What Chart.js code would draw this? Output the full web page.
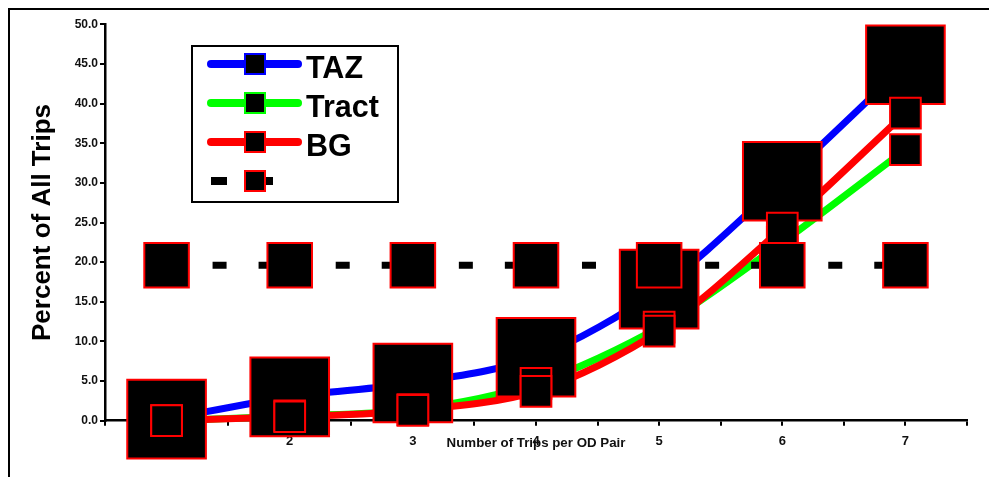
<!DOCTYPE html>
<html>
<head>
<meta charset="utf-8">
<script src="https://cdn.jsdelivr.net/npm/chart.js@4.4.0/dist/chart.umd.min.js"></script>
<style>
  html, body { margin: 0; padding: 0; background: #fff; }
  #wrap { position: relative; width: 989px; height: 477px; }
</style>
</head>
<body>
<div id="wrap"><canvas id="tripChart"></canvas></div>
<script>
// data
const categories  = [1, 2, 3, 4, 5, 6, 7];
const tazValues   = [0.2, 3.0, 4.75, 8.0, 16.6, 30.2, 44.9];
const tractValues = [0.0, 0.6, 1.4, 4.7, 11.8, 22.5, 34.2];
const bgValues    = [0.0, 0.5, 1.3, 3.7, 11.3, 24.3, 38.8];
const refValues   = [19.6, 19.6, 19.6, 19.6, 19.6, 19.6, 19.6];
const yTickValues = [0, 5, 10, 15, 20, 25, 30, 35, 40, 45, 50];
const seriesNames = ['TAZ', 'Tract', 'BG', ''];
const seriesColors = ['#0000ff', '#00ff00', '#ff0000', '#000000'];

const FONT = '"Liberation Sans", Arial, sans-serif';

function toPoints(vals) {
    return categories.map((c, i) => ({ x: c, y: vals[i] }));
}

// x ticks at every category and half way between them
function xTickList() {
    const list = [];
    categories.forEach(c => { list.push(c - 0.5); list.push(c); });
    list.push(categories[categories.length - 1] + 0.5);
    return list;
}

function lineSet(vals, color, order) {
    return {
        data: toPoints(vals),
        borderColor: color,
        borderWidth: 7,
        borderJoinStyle: 'round',
        tension: 0.3,
        pointRadius: 0,
        fill: false,
        clip: false,
        order: order
    };
}

function markerSet(vals, radius, order) {
    return {
        data: toPoints(vals),
        showLine: false,
        pointStyle: 'rect',
        pointRadius: radius,
        pointBackgroundColor: '#000',
        pointBorderColor: '#ff0000',
        pointBorderWidth: 2,
        clip: false,
        order: order
    };
}

const refLine = lineSet(refValues, '#000', 5);
refLine.tension = 0;
refLine.borderCapStyle = 'butt';
refLine.borderDash = [14, 32, 14, 32, 14, 17.14];

// frame and the legend box, drawn by hand like the original
const legendPlugin = {
    id: 'legendBox',
    afterDraw(chart) {
        const ctx = chart.ctx;
        ctx.save();
        ctx.strokeStyle = '#000';
        ctx.lineWidth = 2;
        ctx.beginPath();
        ctx.moveTo(9, 477);
        ctx.lineTo(9, 9);
        ctx.lineTo(989, 9);
        ctx.stroke();

        ctx.fillStyle = '#fff';
        ctx.fillRect(192, 46, 206, 156);
        ctx.strokeRect(192, 46, 206, 156);

        seriesNames.forEach((name, i) => {
            const y = 64 + i * 39;
            ctx.lineWidth = 8;
            ctx.strokeStyle = seriesColors[i];
            if (name) {
                ctx.lineCap = 'round';
                ctx.setLineDash([]);
            } else {
                ctx.lineCap = 'butt';
                ctx.setLineDash([16, 30]);
            }
            ctx.beginPath();
            ctx.moveTo(211, y);
            ctx.lineTo(name ? 298 : 273, y);
            ctx.stroke();
            ctx.setLineDash([]);

            ctx.fillStyle = '#000';
            ctx.fillRect(245, y - 10, 20, 20);
            ctx.lineWidth = 2;
            ctx.strokeStyle = name ? seriesColors[i] : '#ff0000';
            ctx.strokeRect(245, y - 10, 20, 20);

            ctx.fillStyle = '#000';
            ctx.font = 'bold 30.5px ' + FONT;
            ctx.textBaseline = 'alphabetic';
            ctx.fillText(name, 306, y + 14);
        });
        ctx.restore();
    }
};

const ctx = document.getElementById('tripChart').getContext('2d');
const chartInstance = new Chart(ctx, {
    type: 'line',
    data: {
        datasets: [
            lineSet(tazValues, seriesColors[0], 8),
            lineSet(tractValues, seriesColors[1], 7),
            lineSet(bgValues, seriesColors[2], 6),
            refLine,
            markerSet(tazValues, 55.6, 4),
            markerSet(tractValues, 21.7, 3),
            markerSet(bgValues, 21.7, 2),
            markerSet(refValues, 31.5, 1)
        ]
    },
    options: {
        responsive: true,
        maintainAspectRatio: false,
        animation: false,
        layout: { autoPadding: false, padding: { left: 0, right: 22, top: 24.3, bottom: 0 } },
        plugins: {
            legend: { display: false },
            tooltip: { enabled: false }
        },
        scales: {
            x: {
                type: 'linear',
                min: 0.5,
                max: 7.5,
                afterBuildTicks: scale => {
                    scale.ticks = xTickList().map(v => ({ value: v }));
                },
                afterFit: scale => { scale.height = 56.3; },
                grid: { drawOnChartArea: false, drawTicks: true, tickLength: 5, color: '#000', lineWidth: 2 },
                border: { color: '#000', width: 2.5 },
                ticks: {
                    autoSkip: false,
                    maxRotation: 0,
                    padding: 8,
                    color: '#111',
                    font: { family: FONT, size: 13, weight: 'bold' },
                    callback: v => categories.includes(v) ? String(v) : ''
                },
                title: {
                    display: true,
                    text: 'Number of Trips per OD Pair',
                    color: '#111',
                    font: { family: FONT, size: 13.3, weight: 'bold' },
                    padding: { top: 0, bottom: 26 }
                }
            },
            y: {
                min: 0,
                max: 50,
                afterBuildTicks: scale => {
                    scale.ticks = yTickValues.map(v => ({ value: v }));
                },
                afterFit: scale => { scale.width = 105; },
                grid: { drawOnChartArea: false, drawTicks: true, tickLength: 5, color: '#000', lineWidth: 2 },
                border: { color: '#000', width: 2.5 },
                ticks: {
                    padding: 2,
                    color: '#111',
                    font: { family: FONT, size: 12, weight: 'bold' },
                    callback: v => v.toFixed(1)
                },
                title: {
                    display: true,
                    text: 'Percent of All Trips',
                    color: '#000',
                    font: { family: FONT, size: 26, weight: 'bold' },
                    padding: { top: 27.4, bottom: 0 }
                }
            }
        }
    },
    plugins: [legendPlugin]
});
</script>
</body>
</html>
